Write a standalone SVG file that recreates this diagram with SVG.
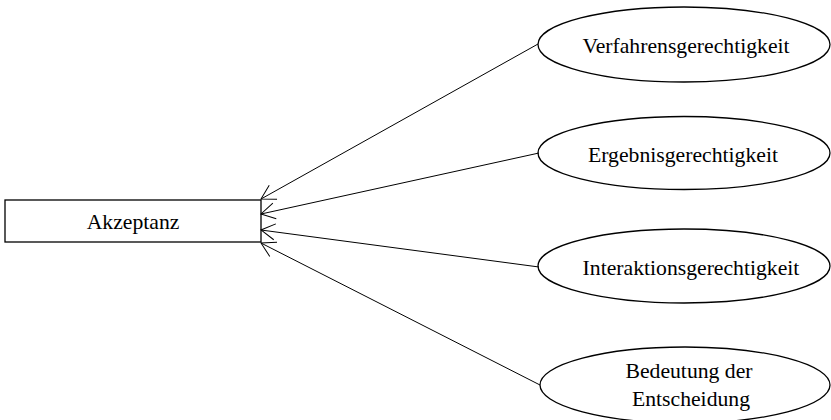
<svg xmlns="http://www.w3.org/2000/svg" width="831" height="420" viewBox="0 0 831 420">
<style>
.shape{fill:#fff;stroke:#000;stroke-width:1.3}
.lbl{font-family:"Liberation Serif","Times New Roman",serif;font-size:21.7px;fill:#000;text-anchor:middle}
.conn{stroke:#000;stroke-width:1;fill:none;marker-end:url(#open)}
</style>
<defs>
<marker id="open" markerUnits="userSpaceOnUse" markerWidth="20" markerHeight="20" viewBox="-18 -10 20 20" refX="0" refY="0" orient="auto">
<path d="M-13.9,-8 L0,0 L-13.9,8" fill="none" stroke="#000" stroke-width="1"/>
</marker>
</defs>
<rect width="831" height="420" fill="#fff"/>
<g id="akzeptanz">
<rect class="shape" x="5" y="200" width="256" height="42"/>
<text class="lbl" x="133" y="228.5">Akzeptanz</text>
</g>
<g id="verfahrensgerechtigkeit">
<ellipse class="shape" cx="684" cy="44.5" rx="146" ry="37.5"/>
<text class="lbl" x="686" y="52.5">Verfahrensgerechtigkeit</text>
</g>
<g id="ergebnisgerechtigkeit">
<ellipse class="shape" cx="684" cy="153" rx="146" ry="36.5"/>
<text class="lbl" x="683" y="161.5">Ergebnisgerechtigkeit</text>
</g>
<g id="interaktionsgerechtigkeit">
<ellipse class="shape" cx="684" cy="266" rx="146" ry="37"/>
<text class="lbl" x="691" y="275">Interaktionsgerechtigkeit</text>
</g>
<g id="bedeutung">
<ellipse class="shape" cx="685" cy="385" rx="145" ry="38"/>
<text class="lbl" x="689" y="378">Bedeutung der</text>
<text class="lbl" x="691" y="406">Entscheidung</text>
</g>
<g id="connectors">
<line class="conn" x1="538" y1="44" x2="261" y2="199"/>
<line class="conn" x1="539" y1="153" x2="261" y2="214"/>
<line class="conn" x1="539" y1="267" x2="261" y2="230"/>
<line class="conn" x1="540" y1="385" x2="261" y2="243"/>
</g>
</svg>
